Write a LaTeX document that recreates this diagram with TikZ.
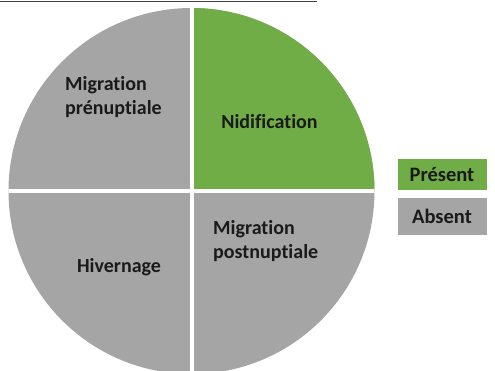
\documentclass[tikz,border=0pt]{standalone}
\usepackage{fontspec}
\setmainfont{Carlito}[Ligatures={NoCommon}]
\definecolor{pgray}{HTML}{A6A5A6}
\definecolor{pgreen}{HTML}{70AD47}
\definecolor{ink}{HTML}{1A1A1A}
\begin{document}
\begin{tikzpicture}[x=1pt,y=-1pt,
  lbl/.style={font=\bfseries\fontsize{20}{24}\selectfont, text=ink, inner sep=0pt, align=left},
  legbox/.style={minimum width=89pt, inner sep=0pt, font=\bfseries\fontsize{20.5}{24}\selectfont, text=ink}]
\useasboundingbox (0,0) rectangle (495,370);
\clip (0,0) rectangle (495,370);
% title underline (title itself cut off)
\coordinate (ulA) at (0,1.5);
\coordinate (ulB) at (317,1.5);
\draw[line width=1.4pt, black!75] (ulA) -- (ulB);
% pie
\coordinate (c) at (191.5,191);
\fill[pgray] (c) circle[radius=183];
\begin{scope}
  \clip (c) circle[radius=183];
  \fill[pgreen] (c) rectangle (380,0);
  \draw[white, line width=4pt] (191.5,0) -- (191.5,380);
  \draw[white, line width=4pt] (0,191) -- (380,191);
\end{scope}
% labels
\node[lbl, anchor=base west] (pre) at (65,114) {Migration\\prénuptiale};
\node[lbl, anchor=base] (nid) at (269.5,128) {Nidification};
\node[lbl, anchor=base] (hiv) at (119,272) {Hivernage};
\node[lbl, anchor=base west] (post) at (213,258) {Migration\\postnuptiale};
% legend
\node[legbox, fill=pgreen, minimum height=31pt] (pres) at (442,174) {Présent};
\node[legbox, fill=pgray, minimum height=37pt] (abs) at (442,216) {Absent};
\end{tikzpicture}
\end{document}
